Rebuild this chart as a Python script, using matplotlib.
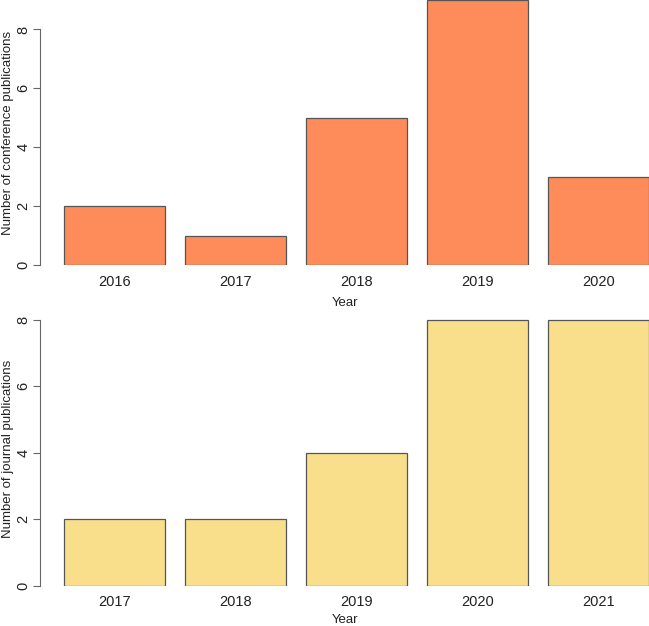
import matplotlib
matplotlib.use('Agg')
import matplotlib.pyplot as plt
import numpy as np

plt.rcParams['font.family'] = ['Liberation Sans', 'DejaVu Sans']

# data
conf_years = ['2016', '2017', '2018', '2019', '2020']
conf_counts = [2, 1, 5, 9, 3]
journal_years = ['2017', '2018', '2019', '2020', '2021']
journal_counts = [2, 2, 4, 8, 8]

conf_color = '#FE8C5A'
journal_color = '#F9DF8B'
edge = '#555555'
axis_col = '#666666'

W, H = 649, 626
fig = plt.figure(figsize=(W / 100, H / 100), dpi=100)

# R-style bar positions: width 1, space 0.2
pos = 0.2 + np.arange(5) * 1.2 + 0.5


def panel(rect, years, counts, color, ylabel, ylim, xlabpad):
    ax = fig.add_axes(rect)
    ax.bar(pos, counts, width=1.0, color=color, edgecolor=edge, linewidth=0.9)
    ax.set_xlim(-0.04, 6.0)
    ax.set_ylim(*ylim)
    for s in ['top', 'right', 'bottom']:
        ax.spines[s].set_visible(False)
    ax.spines['left'].set_bounds(0, 8)
    ax.spines['left'].set_color(axis_col)
    ax.set_yticks([0, 2, 4, 6, 8])
    ax.set_yticklabels(['0', '2', '4', '6', '8'], rotation=90, va='center', fontsize=10.5)
    ax.tick_params(axis='y', length=5, color=axis_col, pad=2, labelcolor='#222222')
    ax.set_xticks(pos)
    ax.set_xticklabels(years, fontsize=10.5, color='#222222')
    ax.tick_params(axis='x', length=0, pad=7)
    ax.set_xlabel('Year', fontsize=9.5, color='#222222', labelpad=xlabpad)
    ax.set_ylabel(ylabel, fontsize=9.5, color='#222222')
    # anchor is the right side of the rotated label
    ax.yaxis.set_label_coords(-26 / (rect[2] * W), 0.5)
    return ax


# top: axes from y=0 to 265 px
top_ax = panel([40 / W, 1 - 265 / H, 609 / W, 265 / H], conf_years, conf_counts,
               conf_color, 'Number of conference publications', (0, 9), 6)
# bottom: 0 at 585.5 px, 8 at 320 px
ppu = (585.5 - 320) / 8
ytop = 8.25
bot_ax = panel([40 / W, 1 - 585.5 / H, 609 / W, ytop * ppu / H], journal_years,
               journal_counts, journal_color, 'Number of journal publications', (0, ytop), 3.5)

fig.savefig('out.png', dpi=100)
